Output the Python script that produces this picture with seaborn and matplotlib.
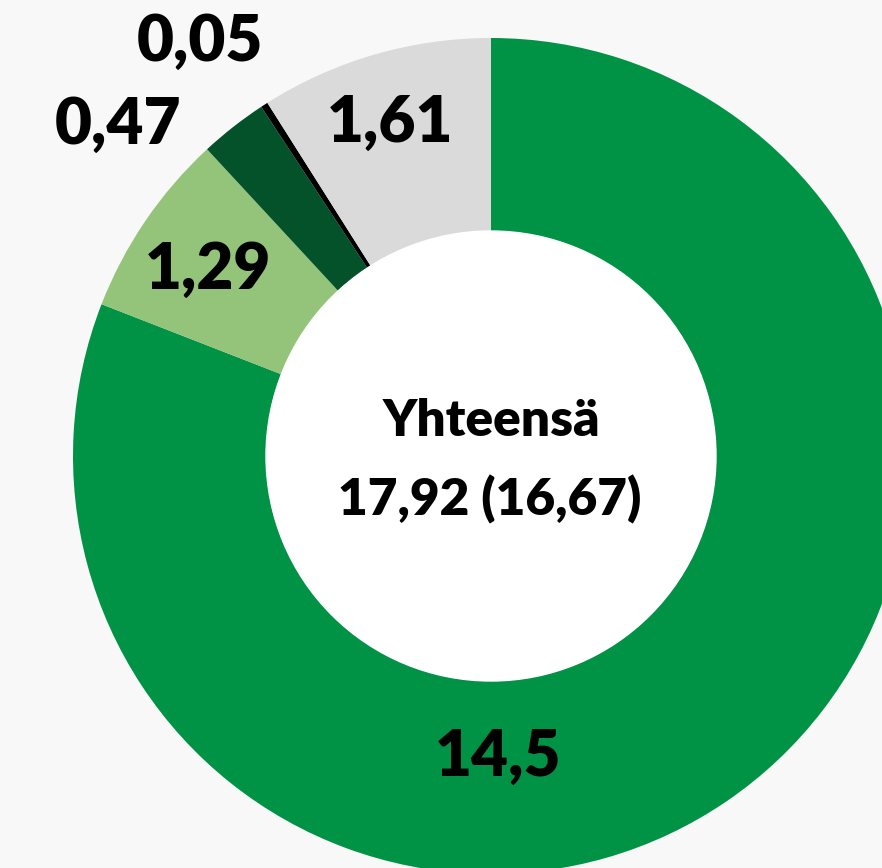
import seaborn as sns
import matplotlib
import matplotlib.pyplot as plt

matplotlib.use("Agg")

# slice values, clockwise from 12 o'clock
values = [14.5, 1.29, 0.47, 0.05, 1.61]
labels = ["14,5", "1,29", "0,47", "0,05", "1,61"]
colors = ["#009245", "#93c47a", "#03522a", "#000000", "#dadada"]
total_title = "Yhteensä"
total_text = "17,92 (16,67)"

# label centres in pixels of the 882x868 image
label_px = [(498, 757), (208, 270), (118, 125), (200, 42), (390, 123)]

W, H = 882, 868
CX, CY, R = 491, 456, 418  # donut centre / outer radius in pixels
R_IN = 225


def to_data(px, py):
    return (px - CX) / R, (CY - py) / R


sns.set_theme(style="white")
plt.rcParams["font.family"] = ["Lato", "DejaVu Sans"]

fig = plt.figure(figsize=(W / 100, H / 100), dpi=100)
fig.patch.set_facecolor("#f8f8f8")
ax = fig.add_axes([0, 0, 1, 1])
ax.set_facecolor("#f8f8f8")

ax.pie(
    values,
    colors=colors,
    startangle=90,
    counterclock=False,
    radius=1,
    wedgeprops={"width": (R - R_IN) / R, "linewidth": 0},
)
ax.add_patch(plt.Circle((0, 0), R_IN / R, color="white", zorder=3))

for text, (px, py) in zip(labels, label_px):
    x, y = to_data(px, py)
    ax.text(x, y, text, ha="center", va="center", fontsize=46,
            fontweight="heavy", color="black", zorder=4)

x, y = to_data(491, 421)
ax.text(x, y, total_title, ha="center", va="center", fontsize=37,
        fontweight="heavy", color="black", zorder=4)
x, y = to_data(490, 499)
ax.text(x, y, total_text, ha="center", va="center", fontsize=37,
        fontweight="heavy", color="black", zorder=4)

ax.set_aspect("auto")
ax.set_xlim(-CX / R, (W - CX) / R)
ax.set_ylim(-(H - CY) / R, CY / R)
ax.axis("off")

fig.savefig("out.png", dpi=100, facecolor=fig.get_facecolor())
